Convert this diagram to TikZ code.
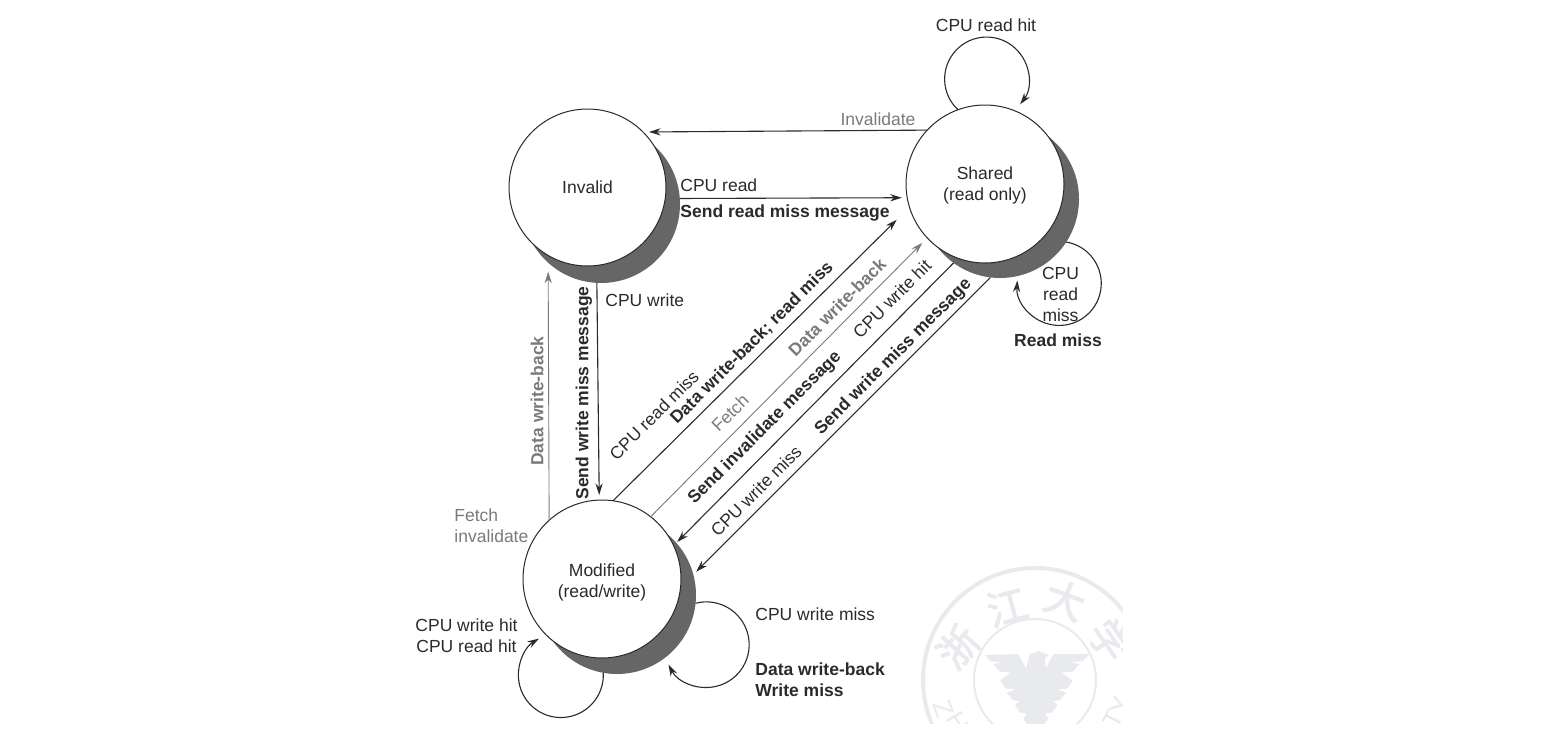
\documentclass[tikz,border=0pt]{standalone}
\usepackage{fontspec}
\setmainfont{Liberation Sans}
\newfontfamily\cjkwm[FakeBold=2.5]{Noto Sans CJK SC}
\usetikzlibrary{arrows.meta}
\definecolor{ink}{HTML}{2A2A2A}
\definecolor{greyink}{HTML}{7A7A7A}
\definecolor{shade}{HTML}{666666}
\definecolor{wm}{HTML}{E9EAEE}
\tikzset{
  x=0.5pt,y=-0.5pt,
  state/.style={circle,draw=ink,line width=0.5pt,fill=white,minimum size=79pt,inner sep=0pt,outer sep=0pt,align=center,text=ink,font=\fontsize{8.75}{10.5}\selectfont},
  shadowdisc/.style={circle,fill=shade,draw=none,minimum size=79pt,inner sep=0pt,outer sep=0pt},
  lab/.style={text=ink,inner sep=0pt,font=\fontsize{8.75}{10.5}\selectfont,align=center},
  blab/.style={text=ink,inner sep=0pt,font=\fontsize{8.75}{10.5}\selectfont\bfseries,align=center},
  glab/.style={text=greyink,inner sep=0pt,font=\fontsize{8.75}{10.5}\selectfont,align=left},
  gblab/.style={text=greyink,inner sep=0pt,font=\fontsize{8.75}{10.5}\selectfont\bfseries,align=center},
  conn/.style={draw=ink,line width=0.55pt,-{Stealth[length=5.8pt,width=3.6pt]}},
  gconn/.style={draw=greyink,line width=0.45pt,-{Stealth[length=5.8pt,width=3.6pt]}},
  wmchar/.style={text=wm,inner sep=0pt,font=\cjkwm\fontsize{20}{20}\selectfont},
  wmlet/.style={text=wm,inner sep=0pt,font=\fontsize{13}{13}\selectfont},
}
\begin{document}
\begin{tikzpicture}
\useasboundingbox (0,0) rectangle (1557,728);
% watermark
\begin{scope}
\clip (900,560) rectangle (1122.5,723.5);
\coordinate (wmc) at (1035,680);
\draw[wm,line width=2pt] (wmc) circle[radius=56pt];
\draw[wm,line width=1pt] (wmc) circle[radius=30.5pt];
\node[wmchar,rotate=48] (w1) at (958,647) {浙};
\node[wmchar,rotate=15] (w2) at (1007,607) {江};
\node[wmchar,rotate=-20] (w3) at (1065,600) {大};
\node[wmchar,rotate=-55] (w4) at (1110,640) {学};
\node[wmlet,rotate=-70] (w5) at (944,709) {Z};
\node[wmlet,rotate=-60] (w6) at (958,722) {H};
\node[wmlet,rotate=62] (w7) at (1113,719) {T};
\node[wmlet,rotate=72] (w8) at (1121,705) {Y};
\begin{scope}[shift={(980,640)},x=0.1667pt,y=-0.1667pt]
\fill[wm] (15,45)--(115,42)--(138,85)--(150,42)--(175,33)--(207,45)--(195,55)--(197,85)--(220,42)--(328,42)--(308,64)--(268,66)--(298,72)--(280,94)--(245,98)--(278,122)--(262,146)--(232,148)--(258,158)--(240,180)--(220,184)--(232,195)--(215,218)--(195,220)--(205,235)--(195,250)--(200,270)--(135,270)--(138,250)--(130,235)--(140,220)--(120,218)--(105,195)--(118,184)--(98,180)--(80,158)--(108,148)--(78,146)--(60,122)--(92,98)--(58,94)--(40,72)--(70,66)--(32,64)--cycle;
\end{scope}
\end{scope}
% states
\node[shadowdisc] (invs) at (601,204) {};
\node[shadowdisc] (shs) at (1000,199) {};
\node[shadowdisc] (mods) at (617,595) {};
\node[state,minimum size=78.5pt] (inv) at (587.5,187.5) {Invalid};
\node[state] (sha) at (985,184) {\rule{0pt}{7.5pt}Shared\\(read only)};
\node[state] (mod) at (602,579) {\rule{0pt}{9.5pt}Modified\\(read/write)};
% connectors
\draw[conn,shorten >=3pt] (sha.137.9) -- (inv.45.7);
\draw[conn,shorten >=2.7pt] (invs.4.4) -- (sha.190.2);
\draw[conn,shorten >=2.5pt] (invs.267.8) -- (mod.92.9);
\draw[gconn,shorten >=4.5pt] (mod.132.1) -- (invs.228.8);
\draw[conn,shorten >=9pt] (mod.82) -- (sha.197.3);
\draw[gconn,shorten >=3.5pt] (mod.52.7) -- (sha.223.5);
\draw[conn,shorten >=2.5pt] (shs.234.3) -- (mod.25.1);
\draw[conn,shorten >=2pt] (shs.263.5) -- (mods.15.7);
% self loops
\draw[conn] (sha.110.2) arc[start angle=227,end angle=-37,radius=21pt];
\draw[conn] (shs.-33) arc[start angle=80.4,end angle=-184,radius=21pt];
\draw[conn] (mods.260.3) arc[start angle=3,end angle=-239,radius=21.25pt];
\draw[conn] (mods.-6.5) arc[start angle=104.6,end angle=-152.3,radius=21.4pt];
% labels
\node[lab] (l1) at (986,25) {CPU read hit};
\node[glab] (l2) at (878,119) {Invalidate};
\node[lab,anchor=west] (l3) at (680,185) {CPU read};
\node[blab,anchor=west] (l4) at (680,213.5) {Send read miss message};
\node[lab,anchor=west] (l5) at (605,300) {CPU write};
\node[blab,rotate=90] (l6) at (584,393) {Send write miss message};
\node[gblab,rotate=90] (l7) at (537,401) {Data write-back};
\node[lab,rotate=45] (l8) at (654,415) {CPU read miss};
\node[blab,rotate=45] (l9) at (752,343) {Data write-back; read miss};
\node[gblab,rotate=45] (l10) at (837,307) {Data write-back};
\node[glab,rotate=45] (l11) at (730,413) {Fetch};
\node[lab,rotate=45] (l12) at (892,299) {CPU write hit};
\node[blab,rotate=45] (l13) at (765,428) {Send invalidate message};
\node[lab,rotate=45] (l14) at (756,491) {CPU write miss};
\node[blab,rotate=45] (l15) at (893.5,357) {Send write miss message};
\node[lab] (l16) at (1060.5,294.5) {CPU\\read\\miss};
\node[blab] (l17) at (1058,340) {Read miss};
\node[glab,anchor=west] (l18) at (454,526) {Fetch\\invalidate};
\node[lab] (l19) at (466.5,635.5) {CPU write hit\\CPU read hit};
\node[lab,anchor=west] (l20) at (755,614) {CPU write miss};
\node[blab,anchor=west,align=left] (l21) at (755,679.5) {Data write-back\\Write miss};
\end{tikzpicture}
\end{document}
